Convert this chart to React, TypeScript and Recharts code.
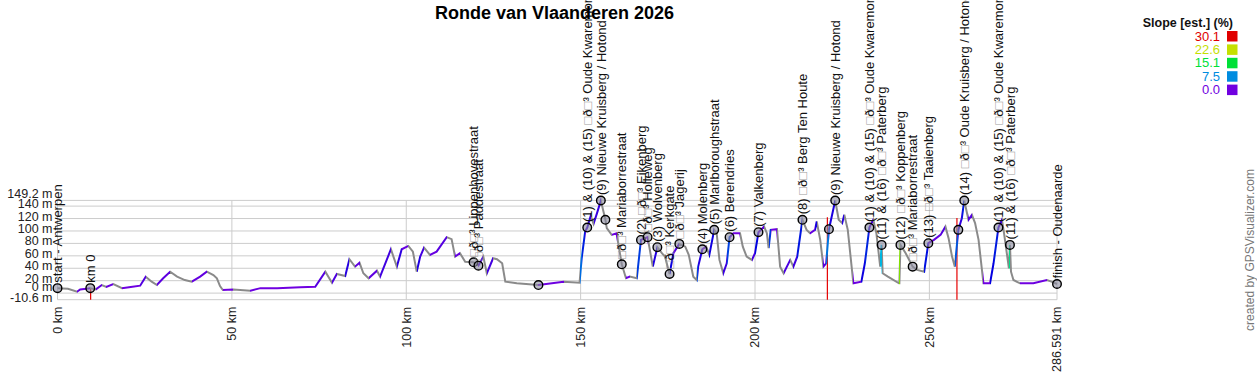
import React from 'react';
import { ComposedChart, Line, Scatter, XAxis, YAxis, CartesianGrid, ReferenceLine } from 'recharts';

const TITLE = 'Ronde van Vlaanderen 2026';
const LEGEND_TITLE = 'Slope [est.] (%)';
const CREDIT = 'created by GPSVisualizer.com';
const KM_MAX = 286.591;
const ELEV_MIN = -10.6;
const ELEV_MAX = 149.2;
const SLOPE_MAX = 30.1;
const xTicks = [0, 50, 100, 150, 200, 250, 286.591];
const yTicks = [-10.6, 0, 20, 40, 60, 80, 100, 120, 140, 149.2];
const slopeLegend = [30.1, 22.6, 15.1, 7.5, 0.0];

const profileKm = [
  0, 3, 5.6, 6.5, 9.4, 11, 12.7, 14, 16, 18.5, 21, 23.7, 25.3, 27, 28.5, 30.3, 32.3, 34.3, 36.5, 38.5,
  40.9, 42.8, 44.7, 45.7, 46.6, 47.4, 50.4, 55.3, 58.2, 63, 69.6, 73.9, 76.8, 78.7, 80.1, 82.5, 83.7, 85.3, 86.6, 87.7,
  89.2, 91.6, 92.5, 95.6, 97.3, 98.7, 100.6, 101.9, 103, 104, 105.1, 106.8, 108.7, 111.6, 113, 114, 115.4, 116.9, 119.3, 120.7,
  122.1, 123.1, 124.9, 126, 127.5, 128.4, 131.7, 137.9, 145.1, 149.7, 150.3, 151.3, 151.9, 152.9, 153.7, 154.7, 155.8, 157.1, 157.5, 158.9,
  160.3, 161.8, 163, 164.1, 166.1, 167.3, 169.2, 170.7, 172, 173.3, 174.2, 175.5, 176.6, 178.3, 180, 181, 182.3, 183.3, 183.7, 184.9,
  186, 186.9, 188.3, 189, 189.8, 190.9, 191.9, 192.7, 193.8, 195.7, 196.5, 197.6, 199.1, 200, 201, 202.6, 203.4, 203.9, 204.5, 206.3,
  207.2, 208.2, 210.1, 211, 212.1, 213.6, 214.8, 215.8, 217.2, 217.7, 218.7, 219.6, 220.4, 221.2, 222, 223, 224, 225, 225.6, 226.6,
  228.2, 230.5, 231.5, 232.8, 233.9, 234.8, 235.9, 236.3, 236.6, 238.1, 241.3, 241.4, 241.7, 243.2, 245.2, 246.5, 248.5, 249.7, 251.3, 253.2,
  254.6, 255.5, 256.5, 257.3, 258.3, 259.3, 260, 261.2, 262.2, 263.1, 264.1, 265.5, 267.4, 268.4, 269.8, 270.8, 271.4, 272.8, 273.1, 273.4,
  274.1, 276, 279.8, 283.7, 285, 286.591,
];
const profileElev = [
  8, 7, 2.3, 6, 8, 6, 13, 10, 14.7, 8, 10, 12, 26.5, 18.4, 13, 23.8, 34.5, 26.5, 21, 18.4,
  26.5, 34.5, 29, 23.8, 11.4, 5, 5.8, 3.9, 8, 8, 9.5, 10.3, 34.5, 16.8, 30.8, 27.6, 54.5, 42.6, 49, 31.9,
  23.9, 36.1, 26.5, 70.6, 42.6, 70.6, 76, 66.8, 34.5, 58.7, 73.2, 61.5, 66.8, 90, 86.8, 58.7, 64.2, 50.6, 49.7, 44.2,
  58.7, 31.9, 56.1, 54.5, 48, 18.4, 15.8, 13, 18.4, 16.8, 56.1, 99, 105.5, 124.4, 111.5, 128.7, 149, 118, 104.5, 93.7,
  96.4, 46.4, 23.9, 26.5, 23.9, 85.6, 90, 42.6, 73.9, 64.2, 58.7, 30.8, 64.2, 79.2, 74.8, 61.5, 26.5, 21.1, 42.6, 70.6,
  74.8, 61.5, 101.8, 96.4, 53.4, 31.9, 48, 90, 96.4, 96.4, 74.8, 58.7, 53.4, 64.2, 98, 107, 96.4, 72.2, 101.8, 102.9,
  42.6, 31.9, 53.4, 42.6, 58.7, 118, 101.8, 96.4, 101.8, 115.2, 85.6, 42.6, 48, 102.9, 123.2, 149, 118, 112.6, 126, 101.8,
  15.8, 18.4, 48, 105.5, 118, 96.4, 42.6, 77.6, 31.9, 26.5, 15.8, 15.8, 77.6, 64.2, 42.6, 37.3, 34.5, 80.3, 85.6, 93.7,
  107, 88.4, 58.7, 42.6, 101.8, 120.6, 149, 118, 126, 112.6, 85.6, 15.8, 15.8, 48, 105.5, 118, 96.4, 40, 77.6, 34.5,
  21.1, 15.8, 15.8, 21.1, 18.4, 14.7,
];

const waypointKm = [
  0, 9.4, 119.3, 120.7, 137.9, 151.9, 155.8, 157.1, 161.8, 167.3, 169.2, 172.0, 175.5, 178.3, 184.9, 188.3,
  192.7, 201.0, 213.6, 221.2, 223.0, 232.8, 236.3, 241.7, 245.2, 249.7, 258.3, 260.0, 269.8, 273.1, 286.591,
];
const waypointElev = [
  8, 8, 49.7, 44.2, 13, 105.5, 149, 118, 46.4, 85.6, 90, 73.9, 30.8, 79.2, 70.6, 101.8,
  90, 98, 118, 102.9, 149, 105.5, 77.6, 77.6, 42.6, 80.3, 101.8, 149, 105.5, 77.6, 14.7,
];
const waypointLabel = [
  'start - Antwerpen', 'km 0', '□ð□³ Lippenhovestraat', '□ð□³ Paddestraat', '',
  '(1) & (10) & (15) □ð□³ Oude Kwaremont', '(9) Nieuwe Kruisberg / Hotond', '', '□ð□³ Mariaborrestraat',
  '(2) □ð□³ Eikenberg', '□ð□³ Holleweg', '(3) Wolvenberg', '□ð□³ Kerkgate', '□ð□³ Jagerij',
  '(4) Molenberg', '(5) Marlboroughstraat', '(6) Berendries', '(7) Valkenberg', '(8) □ð□³ Berg Ten Houte', '',
  '(9) Nieuwe Kruisberg / Hotond', '(1) & (10) & (15) □ð□³ Oude Kwaremont', '(11) & (16) □ð□³ Paterberg',
  '(12) □ð□³ Koppenberg', '□ð□³ Mariaborrestraat', '(13) □ð□³ Taaienberg', '',
  '(14) □ð□³ Oude Kruisberg / Hotond', '(1) & (10) & (15) □ð□³ Oude Kwaremont', '(11) & (16) □ð□³ Paterberg',
  'finish - Oudenaarde',
];

const spikeKm = [9.5, 220.75, 257.9];
const spikeTop = [8, 122, 121];

const FONT = 'Liberation Sans, Arial, Helvetica, sans-serif';
const W = 1257;
const H = 389;
const PLOT_TOP = 200.4;
const PLOT_BOTTOM = 299.7;
const PLOT_LEFT = 57.5;
const PLOT_RIGHT = 1057;
const DESCENT_GRAY = '#8a8a8a';

const slopeColor = (s: number) => {
  const c = Math.max(0, Math.min(SLOPE_MAX, s));
  const hue = 270 * (1 - c / SLOPE_MAX);
  return `hsl(${hue.toFixed(1)}, 100%, 44%)`;
};

const profile = profileKm.map((km, i) => ({ km, elev: profileElev[i] }));
const waypoints = waypointKm.map((km, i) => ({ km, elev: waypointElev[i], label: waypointLabel[i] }));

const gradientStops: { offset: number; color: string }[] = [];
for (let i = 0; i < profile.length - 1; i++) {
  const a = profile[i];
  const b = profile[i + 1];
  const slope = ((b.elev - a.elev) / ((b.km - a.km) * 1000)) * 100;
  const color = slope < 0 ? DESCENT_GRAY : slopeColor(slope);
  gradientStops.push({ offset: a.km / KM_MAX, color });
  gradientStops.push({ offset: b.km / KM_MAX, color });
}

const pxPerM = (PLOT_BOTTOM - PLOT_TOP) / (ELEV_MAX - ELEV_MIN);

const YTick = (props: any) => {
  const { x, y, payload } = props;
  const v = payload.value as number;
  const idx = yTicks.indexOf(v);
  let nudge = 0;
  if (idx > 0) {
    const gap = (v - yTicks[idx - 1]) * pxPerM;
    if (gap < 10) nudge = 10.5 - gap;
  }
  return (
    <text x={x} y={y - 2.5 - nudge} dy="0.36em" textAnchor="end" fontSize={12.5} fontFamily={FONT} fill="#222">
      {`${v} m`}
    </text>
  );
};

const XTick = (props: any) => {
  const { x, y, payload } = props;
  return (
    <text x={x} y={y} transform={`rotate(-90 ${x} ${y})`} dy="0.36em" textAnchor="end" fontSize={12.5} fontFamily={FONT} fill="#222">
      {`${payload.value} km`}
    </text>
  );
};

const WaypointShape = (props: any) => {
  const { cx, cy, payload } = props;
  if (cx == null || cy == null) return <g />;
  const label: string = payload.label || '';
  const parts = label.split('□');
  const ty = cy - 5.5;
  return (
    <g>
      <circle cx={cx} cy={cy} r={4.3} fill="rgba(140,140,160,0.6)" stroke="#000" strokeWidth={1.4} />
      {label && (
        <text x={cx} y={ty} transform={`rotate(-90 ${cx} ${ty})`} dy="0.36em" textAnchor="start" fontSize={13} fontFamily={FONT} fill="#111">
          {parts.map((p, i) => (
            <React.Fragment key={i}>
              {i > 0 && <tspan fill="#9a9a9a">□</tspan>}
              {p}
            </React.Fragment>
          ))}
        </text>
      )}
    </g>
  );
};

export default function App() {
  return (
    <div style={{ position: 'absolute', left: 0, top: 0, width: W, height: H, background: '#fff' }}>
      <svg width={0} height={0} style={{ position: 'absolute' }}>
        <defs>
          <linearGradient id="slopeGrad" x1="0" y1="0" x2="1" y2="0">
            {gradientStops.map((s, i) => (
              <stop key={i} offset={s.offset} stopColor={s.color} />
            ))}
          </linearGradient>
        </defs>
      </svg>
      <ComposedChart
        width={W}
        height={H}
        margin={{ top: PLOT_TOP, right: W - PLOT_RIGHT, bottom: 0, left: 0 }}
      >
        <CartesianGrid stroke="#cccccc" strokeWidth={1} />
        <XAxis
          type="number"
          dataKey="km"
          domain={[0, KM_MAX]}
          ticks={xTicks}
          interval={0}
          height={H - PLOT_BOTTOM}
          tickLine={false}
          axisLine={false}
          tickSize={0}
          tickMargin={7}
          tick={XTick}
        />
        <YAxis
          type="number"
          domain={[ELEV_MIN, ELEV_MAX]}
          ticks={yTicks}
          interval={0}
          width={PLOT_LEFT}
          tickLine={false}
          axisLine={false}
          tickSize={0}
          tickMargin={5}
          tick={YTick}
        />
        {spikeKm.map((km, i) => (
          <ReferenceLine
            key={i}
            segment={[{ x: km, y: spikeTop[i] }, { x: km, y: ELEV_MIN }]}
            stroke="#e60000"
            strokeWidth={1.2}
            ifOverflow="visible"
          />
        ))}
        <Line
          data={profile}
          dataKey="elev"
          type="linear"
          stroke="url(#slopeGrad)"
          strokeWidth={2}
          dot={false}
          activeDot={false}
          isAnimationActive={false}
        />
        <Scatter data={waypoints} dataKey="elev" shape={WaypointShape} isAnimationActive={false} />
      </ComposedChart>
      <svg width={W} height={H} style={{ position: 'absolute', left: 0, top: 0, pointerEvents: 'none' }}>
        <text x={554.5} y={18.5} textAnchor="middle" fontSize={18} fontWeight="bold" fontFamily={FONT} fill="#000">
          {TITLE}
        </text>
        <text x={1233} y={26.5} textAnchor="end" fontSize={12.5} fontWeight="bold" fontFamily={FONT} fill="#111">
          {LEGEND_TITLE}
        </text>
        {slopeLegend.map((v, i) => (
          <g key={i}>
            <text x={1220} y={36 + i * 13.4} dy="0.36em" textAnchor="end" fontSize={13} fontFamily={FONT} fill={slopeColor(v)}>
              {v.toFixed(1)}
            </text>
            <rect x={1227} y={31 + i * 13.4} width={10.5} height={10.5} fill={slopeColor(v)} />
          </g>
        ))}
        <text x={1250} y={250} transform="rotate(-90 1250 250)" dy="0.36em" textAnchor="middle" fontSize={12} fontFamily={FONT} fill="#777">
          {CREDIT}
        </text>
      </svg>
    </div>
  );
}
